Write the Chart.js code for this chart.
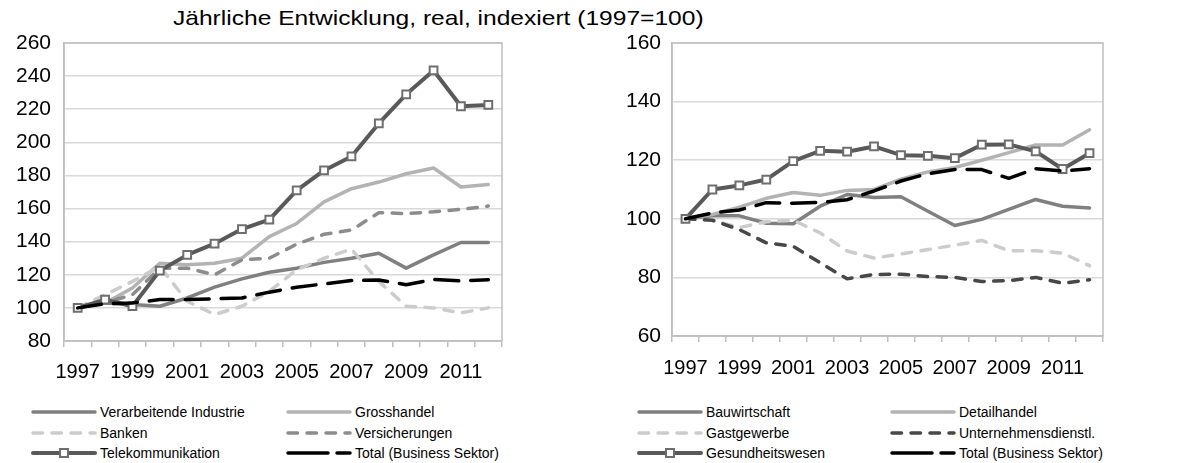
<!DOCTYPE html>
<html><head><meta charset="utf-8">
<script src="https://cdn.jsdelivr.net/npm/chart.js@4/dist/chart.umd.min.js"></script>
<style>
html,body{margin:0;padding:0;background:#fff;}
body{width:1184px;height:463px;position:relative;overflow:hidden;font-family:"Liberation Sans",Arial,sans-serif;color:#000;}
#title{position:absolute;left:173px;top:7px;font-size:21px;line-height:21px;white-space:nowrap;transform:scaleX(1.17);transform-origin:0 0;}
.cv{position:absolute;top:0;}
.lg{position:absolute;height:20px;display:flex;align-items:center;font-size:14px;white-space:nowrap;}
.lg svg{margin-right:3px;display:block;}
</style>
</head><body>
<div id="title">Jährliche Entwicklung, real, indexiert (1997=100)</div>
<canvas id="c1" class="cv" style="left:0px" width="590" height="395"></canvas>
<canvas id="c2" class="cv" style="left:590px" width="594" height="395"></canvas>
<div id="legends"></div>
<script>
// ---- data ----
const years = ['1997','1998','1999','2000','2001','2002','2003','2004','2005','2006','2007','2008','2009','2010','2011','2012'];
const xTickLabels = ['1997','','1999','','2001','','2003','','2005','','2007','','2009','','2011',''];
const yTicksLeft = [80,100,120,140,160,180,200,220,240,260];
const yTicksRight = [60,80,100,120,140,160];

const verarbeitende = [100,103,102,101,106,112.5,117.5,121.5,124,127.5,130,133,124,132,139.5,139.5];
const grosshandel   = [100,103,112,127,126,127,130,143,151,164,172,176,181,184.5,173,174.5];
const banken        = [100,108,116,125,104,96,101,110,123,130,135.5,116,101,100,97,100];
const versicherungen= [100,103,108,124,124,120,129,130,138.5,144.5,147,157.5,157,158,159.5,161.5];
const telekom       = [100,105,101,122.5,132,138.8,147.6,153.3,171,183,191.5,211.4,229,243.4,221.8,222.6];
const totalLeft     = [100,102.5,103,105,105,105.5,106,109.5,112.5,114.5,116.5,116.8,114,117.2,116.3,117];

const bauwirtschaft = [100,101,101,98.5,98.3,104.3,108.3,107.3,107.5,102.6,97.7,99.8,103.2,106.6,104.3,103.7];
const detailhandel  = [100,101.5,104,107,109,108,109.7,110,113.5,116,117.5,120,122.6,125.2,125.2,130.4];
const gastgewerbe   = [100,99.5,97,99,99.5,95.2,89,86.6,88,89.5,91,92.6,89.1,89.1,88.3,84];
const unternehmens  = [100,99.5,96.3,91.8,90.6,85,79.5,81,81.1,80.3,80,78.6,78.9,80,78,79.2];
const gesundheit    = [100,110,111.4,113.4,119.7,123.2,122.9,124.7,121.7,121.5,120.7,125.3,125.4,123,117,122.4];
const totalRight    = [100,102,103,105.5,105.3,105.6,106.5,109.5,112.9,115.4,116.8,116.8,113.8,117.1,116.3,117.1];

// ---- styles ----
const W = 3.5;
const ST = {
  solidMid:   {color:'#808080', dash:[]},
  solidLight: {color:'#b3b3b3', dash:[]},
  dashLight:  {color:'#cccccc', dash:[9.5,9.5]},
  dashMid:    {color:'#8c8c8c', dash:[9.5,9.5]},
  dashDark:   {color:'#474747', dash:[9.5,9.5]},
  marker:     {color:'#595959', dash:[], marker:true},
  total:      {color:'#000000', dash:[24,12]}
};

function ds(label, data, st, order){
  return {
    label, data, order,
    borderColor: st.color, backgroundColor: st.color,
    borderWidth: st.marker ? 4 : W,
    borderDash: st.dash,
    borderCapStyle: 'round', borderJoinStyle: 'round',
    tension: 0, fill: false,
    pointRadius: st.marker ? 5.5 : 0,
    pointHoverRadius: st.marker ? 5.5 : 0,
    pointStyle: 'rect',
    pointBackgroundColor: '#ffffff',
    pointBorderColor: '#6e6e6e',
    pointBorderWidth: 2
  };
}

const frame = {
  id:'frame',
  beforeDatasetsDraw(chart){
    const a = chart.chartArea, c = chart.ctx;
    c.save(); c.strokeStyle = '#bfbfbf'; c.lineWidth = 1.5;
    c.strokeRect(a.left, a.top, a.right - a.left, a.bottom - a.top);
    c.restore();
  }
};

function makeChart(id, datasets, yTicks, yAxisW, yPad, xPad, pad){
  return new Chart(document.getElementById(id), {
    type:'line',
    data:{labels: years, datasets},
    plugins:[frame],
    options:{
      responsive:false, animation:false,
      layout:{padding:pad},
      plugins:{legend:{display:false}, tooltip:{enabled:false}, title:{display:false}},
      scales:{
        x:{
          type:'category', offset:true,
          grid:{offset:true, drawOnChartArea:false, drawTicks:true, tickLength:6, color:'#bfbfbf', lineWidth:1.5},
          border:{display:true, color:'#bfbfbf', width:1.5},
          ticks:{autoSkip:false, maxRotation:0, minRotation:0, padding:xPad, color:'#000',
                 font:{family:'"Liberation Sans", Arial, sans-serif', size:20},
                 callback:(v,i)=>xTickLabels[i]},
          afterFit:(s)=>{ s.height = 40; }
        },
        y:{
          min: yTicks[0], max: yTicks[yTicks.length-1],
          afterBuildTicks:(s)=>{ s.ticks = yTicks.map(v=>({value:v})); },
          grid:{drawTicks:false, color:'#d9d9d9', lineWidth:1.5},
          border:{display:true, color:'#bfbfbf', width:1.5},
          ticks:{padding:yPad, color:'#000', font:{family:'"Liberation Sans", Arial, sans-serif', size:21}},
          afterFit:(s)=>{ s.width = yAxisW; }
        }
      }
    }
  });
}

makeChart('c1', [
  ds('Verarbeitende Industrie', verarbeitende, ST.solidMid, 5),
  ds('Grosshandel', grosshandel, ST.solidLight, 4),
  ds('Banken', banken, ST.dashLight, 3),
  ds('Versicherungen', versicherungen, ST.dashMid, 2),
  ds('Telekommunikation', telekom, ST.marker, 1),
  ds('Total (Business Sektor)', totalLeft, ST.total, 0)
], yTicksLeft, 64, 13, 13, {left:0, top:43, right:88, bottom:14});

makeChart('c2', [
  ds('Bauwirtschaft', bauwirtschaft, ST.solidMid, 5),
  ds('Detailhandel', detailhandel, ST.solidLight, 4),
  ds('Gastgewerbe', gastgewerbe, ST.dashLight, 3),
  ds('Unternehmensdienstl.', unternehmens, ST.dashDark, 2),
  ds('Gesundheitswesen', gesundheit, ST.marker, 1),
  ds('Total (Business Sektor)', totalRight, ST.total, 0)
], yTicksRight, 82, 11, 14, {left:0, top:43, right:81, bottom:19});

// ---- legends (HTML, real text) ----
function sample(st){
  const dash = st === ST.total ? '40 9' : (st.dash.length ? st.dash.join(' ') : 'none');
  let s = `<svg width="66" height="14"><line x1="2" y1="7" x2="64" y2="7" stroke="${st.color}" stroke-width="${st.marker?4:W}" stroke-linecap="round" stroke-dasharray="${dash}"/>`;
  if (st.marker) s += `<rect x="29" y="3" width="8" height="8" fill="#fff" stroke="#6e6e6e" stroke-width="2"/>`;
  return s + '</svg>';
}
const legendDefs = [
  {x:31, items:[['Verarbeitende Industrie',ST.solidMid],['Banken',ST.dashLight],['Telekommunikation',ST.marker]]},
  {x:286, items:[['Grosshandel',ST.solidLight],['Versicherungen',ST.dashMid],['Total (Business Sektor)',ST.total]]},
  {x:637, items:[['Bauwirtschaft',ST.solidMid],['Gastgewerbe',ST.dashLight],['Gesundheitswesen',ST.marker]]},
  {x:890, items:[['Detailhandel',ST.solidLight],['Unternehmensdienstl.',ST.dashDark],['Total (Business Sektor)',ST.total]]}
];
const rowsY = [412, 432.5, 453];
const lg = document.getElementById('legends');
legendDefs.forEach(col=>{
  col.items.forEach((it,r)=>{
    const d = document.createElement('div');
    d.className = 'lg';
    d.style.left = col.x + 'px';
    d.style.top = (rowsY[r] - 10) + 'px';
    d.innerHTML = sample(it[1]) + '<span>' + it[0] + '</span>';
    lg.appendChild(d);
  });
});
</script>
</body></html>
